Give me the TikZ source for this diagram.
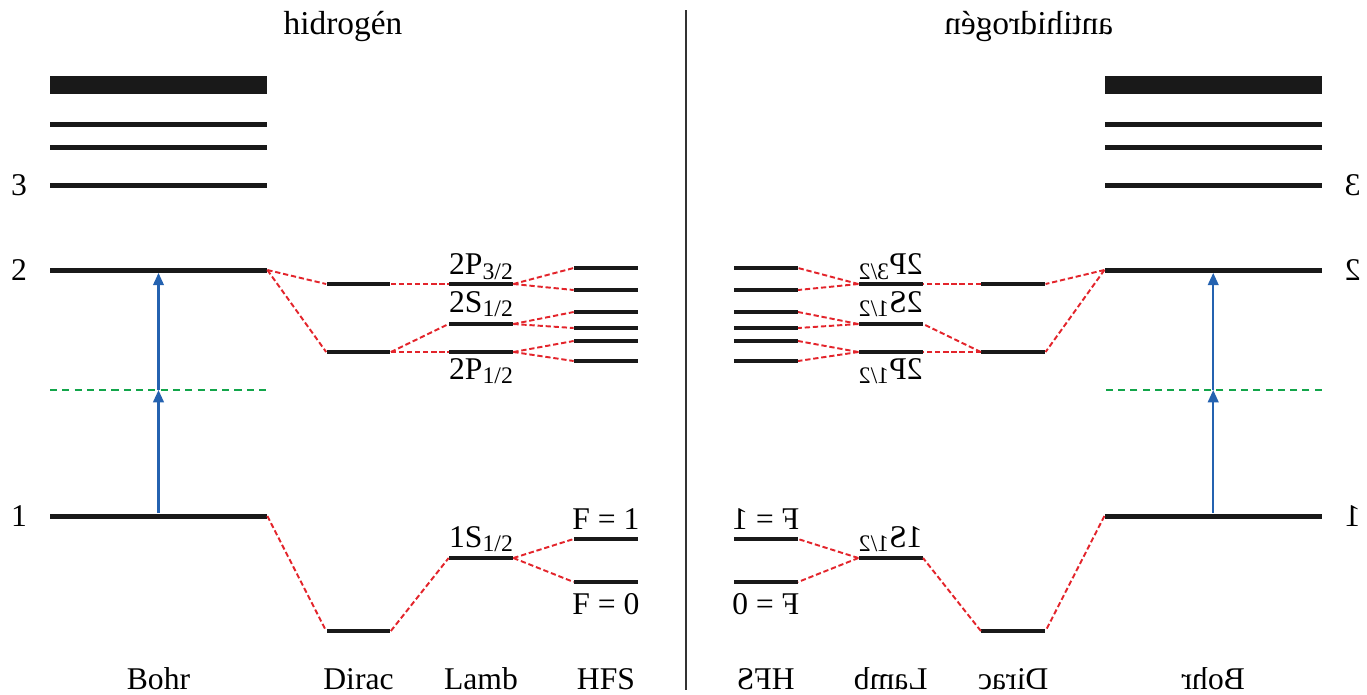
\documentclass[tikz,border=0pt]{standalone}
\usepackage{fontspec}
\setmainfont{Liberation Serif}
\usetikzlibrary{arrows.meta, positioning}
\definecolor{splitred}{HTML}{E3242B}
\definecolor{laserblue}{HTML}{2462B0}
\definecolor{virtgreen}{HTML}{12A54A}

% subscript for the term symbols
\newcommand{\jsub}[1]{\raisebox{-0.3ex}{\fontsize{13.5}{14}\selectfont #1}}

% one half of the scheme, #1 = name prefix, #2 = title
\newcommand{\halfscheme}[2]{%
    \node[title, anchor=base] (#1title) at (343, -34) {#2};

    % Bohr levels
    \node[bohrlvl, minimum height=0.36cm] (#1b4) at (158.5, -85) {};
    \node[bohrlvl] (#1b3c) at (158.5, -124) {};
    \node[bohrlvl] (#1b3b) at (158.5, -147) {};
    \node[bohrlvl] (#1b3) at (158.5, -185) {};
    \node[bohrlvl] (#1b2) at (158.5, -270) {};
    \node[bohrlvl] (#1b1) at (158.5, -516) {};
    \node[txt] (#1n3) at (19, -185) {3};
    \node[txt] (#1n2) at (19, -270) {2};
    \node[txt] (#1n1) at (19, -516) {1};

    % two-photon excitation
    \coordinate (#1vl) at (50, -390);
    \coordinate (#1vr) at (267, -390);
    \coordinate (#1vm) at (158.5, -390);
    \draw[virt] (#1vl) -- (#1vr);
    \draw[excite] (#1b1) -- (#1vm);
    \draw[excite] (#1vm) -- (#1b2);

    % Dirac
    \node[lvl] (#1d3) at (358.5, -284) {};
    \node[lvl] (#1d2) at (358.5, -352) {};
    \node[lvl] (#1d1) at (358.5, -631) {};

    % Lamb
    \node[lvl] (#1lp3) at (481, -284) {};
    \node[lvl] (#1ls) at (481, -324) {};
    \node[lvl] (#1lp1) at (481, -352) {};
    \node[lvl] (#1l1) at (481, -558) {};
    \node[txt, above=1pt of #1lp3] (#1tp3) {2P\jsub{3/2}};
    \node[txt, above=2.5pt of #1ls] (#1ts) {2S\jsub{1/2}};
    \node[txt, below=2pt of #1lp1] (#1tp1) {2P\jsub{1/2}};
    \node[txt, above=2pt of #1l1] (#1t1) {1S\jsub{1/2}};

    % hyperfine
    \node[lvl] (#1h1) at (606, -268) {};
    \node[lvl] (#1h2) at (606, -290) {};
    \node[lvl] (#1h3) at (606, -312) {};
    \node[lvl] (#1h4) at (606, -328) {};
    \node[lvl] (#1h5) at (606, -341) {};
    \node[lvl] (#1h6) at (606, -361) {};
    \node[lvl] (#1f1) at (606, -539) {};
    \node[lvl] (#1f0) at (606, -582) {};
    \node[txt, above=4pt of #1f1] (#1tf1) {F = 1};
    \node[txt, below=5pt of #1f0] (#1tf0) {F = 0};

    \draw[split] (#1b2.east) -- (#1d3.west);
    \draw[split] (#1b2.east) -- (#1d2.west);
    \draw[split] (#1d3.east) -- (#1lp3.west);
    \draw[split] (#1d2.east) -- (#1ls.west);
    \draw[split] (#1d2.east) -- (#1lp1.west);
    \draw[split] (#1lp3.east) -- (#1h1.west);
    \draw[split] (#1lp3.east) -- (#1h2.west);
    \draw[split] (#1ls.east) -- (#1h3.west);
    \draw[split] (#1ls.east) -- (#1h4.west);
    \draw[split] (#1lp1.east) -- (#1h5.west);
    \draw[split] (#1lp1.east) -- (#1h6.west);
    \draw[split] (#1b1.east) -- (#1d1.west);
    \draw[split] (#1d1.east) -- (#1l1.west);
    \draw[split] (#1l1.east) -- (#1f1.west);
    \draw[split] (#1l1.east) -- (#1f0.west);

    % model names
    \node[txt, anchor=base] (#1mb) at (158.5, -689) {Bohr};
    \node[txt, anchor=base] (#1md) at (358.5, -689) {Dirac};
    \node[txt, anchor=base] (#1ml) at (481, -689) {Lamb};
    \node[txt, anchor=base] (#1mh) at (606, -689) {HFS};
}

\begin{document}
\begin{tikzpicture}[
    x=0.02cm, y=0.02cm,
    txt/.style={inner sep=0pt, font=\fontsize{18}{21}\selectfont},
    title/.style={inner sep=0pt, font=\fontsize{19}{22}\selectfont},
    bohrlvl/.style={fill=black!90, inner sep=0pt, minimum width=4.34cm, minimum height=0.1cm},
    lvl/.style={fill=black!90, inner sep=0pt, minimum width=1.28cm, minimum height=0.08cm},
    split/.style={splitred, line width=1.1pt, dash pattern=on 3pt off 1.6pt},
    virt/.style={virtgreen, line width=1.1pt, dash pattern=on 4pt off 3pt},
    excite/.style={-{Triangle[length=7pt, width=6pt]}, laserblue, line width=1.3pt},
]
    \useasboundingbox (0, 0) rectangle (1367, -694);

    \halfscheme{h}{hidrog\'en}

    % mirrored antimatter side
    \begin{scope}[xshift=27.44cm, xscale=-1, transform shape]
        \halfscheme{a}{antihidrog\'en}
    \end{scope}

    % divider
    \coordinate (top) at (686, -10);
    \coordinate (bot) at (686, -690);
    \draw[black!80, line width=1.2pt] (top) -- (bot);
\end{tikzpicture}
\end{document}
